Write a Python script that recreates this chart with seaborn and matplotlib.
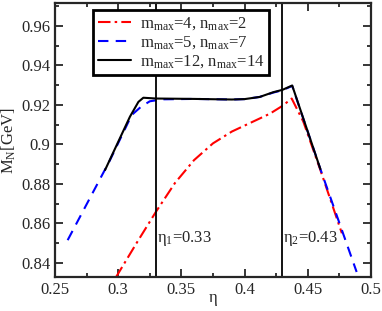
import pandas as pd
import matplotlib
matplotlib.use("Agg")
import matplotlib.pyplot as plt
import seaborn as sns
from matplotlib.ticker import MultipleLocator

# Curvas M_N(eta)
eta_red = [0.298, 0.300, 0.315, 0.330, 0.345, 0.360, 0.375, 0.390, 0.405,
           0.420, 0.4300, 0.4373, 0.4465, 0.460, 0.477]
m_red = [0.8325, 0.8346, 0.8505, 0.8660, 0.8805, 0.8920, 0.9005, 0.9065, 0.9110,
         0.9155, 0.9195, 0.9232, 0.9115, 0.887, 0.855]

eta_blue = [0.260, 0.2935, 0.3093, 0.312, 0.318, 0.325, 0.335, 0.360, 0.390,
            0.400, 0.412, 0.4227, 0.430, 0.4377, 0.460, 0.4887]
m_blue = [0.8515, 0.892, 0.913, 0.9156, 0.919, 0.9218, 0.9228, 0.9230, 0.9227,
          0.9229, 0.9240, 0.9262, 0.9274, 0.9296, 0.8875, 0.8354]

eta_black = [0.2896, 0.3093, 0.316, 0.3199, 0.330, 0.360, 0.390, 0.400, 0.412,
             0.4227, 0.430, 0.4377, 0.460]
m_black = [0.887, 0.914, 0.9215, 0.9236, 0.9232, 0.9230, 0.9227, 0.9229, 0.9240,
           0.9264, 0.9276, 0.9298, 0.8875]

labels = ["m$_{max}$=4, n$_{max}$=2", "m$_{max}$=5, n$_{max}$=7",
          "m$_{max}$=12, n$_{max}$=14"]
eta_marks = [0.33, 0.43]
eta_texts = ["η$_1$=0.33", "η$_2$=0.43"]

sns.set_style("ticks")
plt.rcParams["font.family"] = ["Liberation Serif", "DejaVu Serif"]
plt.rcParams["mathtext.fontset"] = "custom"
plt.rcParams["mathtext.rm"] = "Liberation Serif"
plt.rcParams["mathtext.default"] = "regular"

fig = plt.figure(figsize=(3.82, 3.11), dpi=100)
ax = fig.add_axes([0.144, 0.109, 0.827, 0.881])

df_red = pd.DataFrame({"eta": eta_red, "M": m_red})
df_blue = pd.DataFrame({"eta": eta_blue, "M": m_blue})
df_black = pd.DataFrame({"eta": eta_black, "M": m_black})

sns.lineplot(data=df_red, x="eta", y="M", ax=ax, color="red", lw=1.5,
             sort=False, label=labels[0])
ax.lines[-1].set_dashes([6, 2, 1.2, 2])
sns.lineplot(data=df_blue, x="eta", y="M", ax=ax, color="blue", lw=1.5,
             sort=False, label=labels[1])
ax.lines[-1].set_dashes([5, 3.5])
sns.lineplot(data=df_black, x="eta", y="M", ax=ax, color="black", lw=1.5,
             sort=False, label=labels[2])

for e, t in zip(eta_marks, eta_texts):
    ax.axvline(e, color="black", lw=1.3)
    ax.text(e + 0.0008, 0.8525, t, fontsize=12, va="center", ha="left")

ax.set_xlim(0.25, 0.5)
ax.set_ylim(0.8328, 0.9715)
ax.xaxis.set_major_locator(MultipleLocator(0.05))
ax.xaxis.set_minor_locator(MultipleLocator(0.025))
ax.yaxis.set_major_locator(MultipleLocator(0.02))
ax.yaxis.set_minor_locator(MultipleLocator(0.01))
ax.set_xticklabels([f"{v:g}" for v in ax.get_xticks()])
ax.set_yticklabels([f"{v:g}" for v in ax.get_yticks()])
ax.tick_params(which="both", direction="in", top=True, right=True,
               labelsize=12, width=1.3)
ax.tick_params(which="major", length=6)
ax.tick_params(which="minor", length=3)
for s in ax.spines.values():
    s.set_linewidth(1.6)

ax.set_xlabel("η", fontsize=12)
ax.xaxis.set_label_coords(0.5, -0.075)
ax.xaxis.label.set_va("center")
ax.set_ylabel("M$_N$[GeV]", fontsize=12, labelpad=2)

leg = ax.legend(loc="upper left", bbox_to_anchor=(0.12, 0.975), borderaxespad=0,
                fontsize=12, fancybox=False, framealpha=1, edgecolor="black",
                handlelength=2.0, handletextpad=0.5, labelspacing=0.15,
                borderpad=0.3)
leg.get_frame().set_linewidth(2.0)

fig.savefig("out.png", dpi=100)
